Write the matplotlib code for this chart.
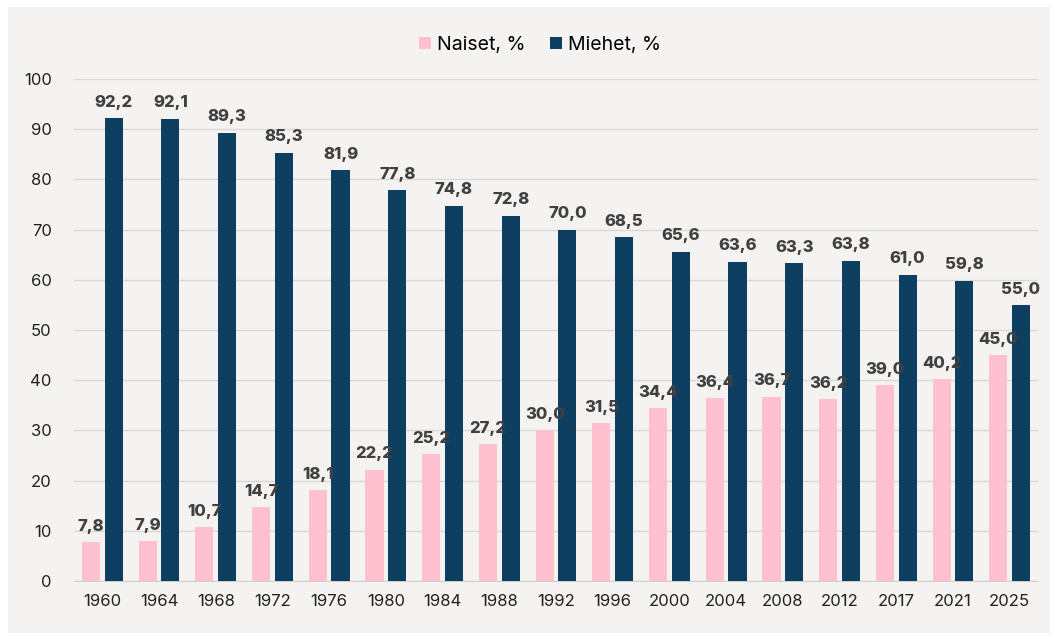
import matplotlib
matplotlib.use("Agg")
import matplotlib.pyplot as plt
from matplotlib.patches import Rectangle
import numpy as np

years = ["1960", "1964", "1968", "1972", "1976", "1980", "1984", "1988", "1992",
         "1996", "2000", "2004", "2008", "2012", "2017", "2021", "2025"]
naiset = [7.8, 7.9, 10.7, 14.7, 18.1, 22.2, 25.2, 27.2, 30.0, 31.5, 34.4,
          36.4, 36.7, 36.2, 39.0, 40.2, 45.0]
miehet = [92.2, 92.1, 89.3, 85.3, 81.9, 77.8, 74.8, 72.8, 70.0, 68.5, 65.6,
          63.6, 63.3, 63.8, 61.0, 59.8, 55.0]

plt.rcParams["font.family"] = ["Inter", "DejaVu Sans"]

pink = "#ffc0cf"
navy = "#0f3f60"
bg = "#f4f3f1"

fig = plt.figure(figsize=(10.56, 6.4), dpi=100, facecolor="white")
panel = Rectangle((8 / 1056, 7 / 640), 1042 / 1056, 626 / 640,
                  transform=fig.transFigure, facecolor=bg,
                  edgecolor="none", zorder=-10)
fig.add_artist(panel)
ax = fig.add_axes([74 / 1056, 59 / 640, 964 / 1056, 502 / 640])
ax.set_zorder(1)
ax.set_facecolor(bg)

x = np.arange(len(years))
w = 0.32
b1 = ax.bar(x - 0.2, naiset, w, color=pink, label="Naiset, %", zorder=3)
b2 = ax.bar(x + 0.2, miehet, w, color=navy, label="Miehet, %", zorder=3)

for bars, vals in ((b1, naiset), (b2, miehet)):
    for r, v in zip(bars, vals):
        ax.annotate(f"{v:.1f}".replace(".", ","),
                    xy=(r.get_x() + r.get_width() / 2, v),
                    xytext=(0, 6), textcoords="offset points",
                    ha="center", va="bottom", fontsize=12,
                    fontweight="heavy", color="#404040", zorder=4)

ax.set_xlim(-0.5, len(years) - 0.5)
ax.set_ylim(0, 100)
ax.set_yticks(range(0, 101, 10))
ax.set_xticks(x)
ax.set_xticklabels(years)
ax.tick_params(length=0, labelsize=12, colors="#222222", pad=9)
ax.tick_params(axis="y", pad=16)
ax.grid(axis="y", color="#d9d9d9", linewidth=1, zorder=0)
for s in ("top", "right", "left"):
    ax.spines[s].set_visible(False)
ax.spines["bottom"].set_color("#d0d0d0")

fig.legend(*ax.get_legend_handles_labels(), loc="center",
           bbox_to_anchor=(540 / 1056, 1 - 45 / 640), ncol=2,
           frameon=False, fontsize=14, handlelength=0.6, handleheight=0.6,
           handletextpad=0.3, columnspacing=1.3)

fig.savefig("out.png", dpi=100, facecolor="white")
